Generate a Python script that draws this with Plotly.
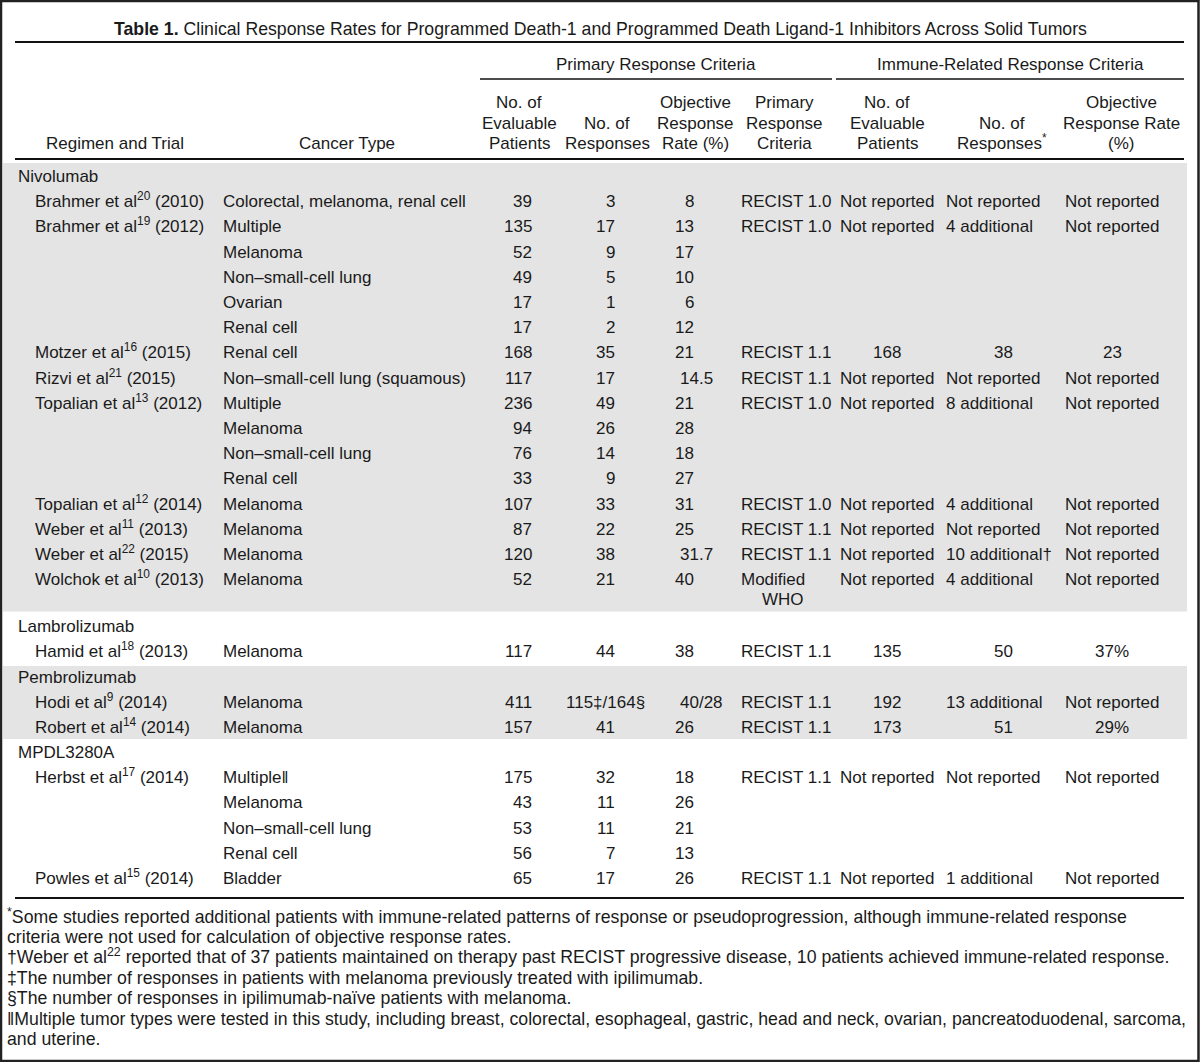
import plotly.graph_objects as go

# ---------------- data ----------------
title_bold = "Table 1."
title_text = "Clinical Response Rates for Programmed Death-1 and Programmed Death Ligand-1 Inhibitors Across Solid Tumors"

group_headers = ["Primary Response Criteria", "Immune-Related Response Criteria"]
col_headers = [
    ["", "", "Regimen and Trial"],
    ["", "", "Cancer Type"],
    ["No. of", "Evaluable", "Patients"],
    ["", "No. of", "Responses"],
    ["Objective", "Response", "Rate (%)"],
    ["Primary", "Response", "Criteria"],
    ["No. of", "Evaluable", "Patients"],
    ["", "No. of", "Responses<sup>*</sup>"],
    ["Objective", "Response Rate", "(%)"],
]

sections = ["Nivolumab", "Lambrolizumab", "Pembrolizumab", "MPDL3280A"]
section_sizes = [16, 1, 2, 5]

trial = [
    "Brahmer et al<sup>20</sup> (2010)", "Brahmer et al<sup>19</sup> (2012)", "", "", "", "",
    "Motzer et al<sup>16</sup> (2015)", "Rizvi et al<sup>21</sup> (2015)",
    "Topalian et al<sup>13</sup> (2012)", "", "", "",
    "Topalian et al<sup>12</sup> (2014)", "Weber et al<sup>11</sup> (2013)",
    "Weber et al<sup>22</sup> (2015)", "Wolchok et al<sup>10</sup> (2013)",
    "Hamid et al<sup>18</sup> (2013)",
    "Hodi et al<sup>9</sup> (2014)", "Robert et al<sup>14</sup> (2014)",
    "Herbst et al<sup>17</sup> (2014)", "", "", "", "Powles et al<sup>15</sup> (2014)",
]
cancer = [
    "Colorectal, melanoma, renal cell", "Multiple", "Melanoma", "Non–small-cell lung", "Ovarian", "Renal cell",
    "Renal cell", "Non–small-cell lung (squamous)", "Multiple", "Melanoma", "Non–small-cell lung", "Renal cell",
    "Melanoma", "Melanoma", "Melanoma", "Melanoma",
    "Melanoma",
    "Melanoma", "Melanoma",
    "Multiple‖", "Melanoma", "Non–small-cell lung", "Renal cell", "Bladder",
]
n_eval = ["39", "135", "52", "49", "17", "17", "168", "117", "236", "94", "76", "33", "107", "87", "120", "52",
          "117", "411", "157", "175", "43", "53", "56", "65"]
n_resp = ["3", "17", "9", "5", "1", "2", "35", "17", "49", "26", "14", "9", "33", "22", "38", "21",
          "44", "115‡/164§", "41", "32", "11", "11", "7", "17"]
orr = ["8", "13", "17", "10", "6", "12", "21", "14.5", "21", "28", "18", "27", "31", "25", "31.7", "40",
       "38", "40/28", "26", "18", "26", "21", "13", "26"]
criteria = ["RECIST 1.0", "RECIST 1.0", "", "", "", "", "RECIST 1.1", "RECIST 1.1", "RECIST 1.0", "", "", "",
            "RECIST 1.0", "RECIST 1.1", "RECIST 1.1", "Modified WHO",
            "RECIST 1.1", "RECIST 1.1", "RECIST 1.1", "RECIST 1.1", "", "", "", "RECIST 1.1"]
ir_eval = ["Not reported", "Not reported", "", "", "", "", "168", "Not reported", "Not reported", "", "", "",
           "Not reported", "Not reported", "Not reported", "Not reported",
           "135", "192", "173", "Not reported", "", "", "", "Not reported"]
ir_resp = ["Not reported", "4 additional", "", "", "", "", "38", "Not reported", "8 additional", "", "", "",
           "4 additional", "Not reported", "10 additional†", "4 additional",
           "50", "13 additional", "51", "Not reported", "", "", "", "1 additional"]
ir_orr = ["Not reported", "Not reported", "", "", "", "", "23", "Not reported", "Not reported", "", "", "",
          "Not reported", "Not reported", "Not reported", "Not reported",
          "37%", "Not reported", "29%", "Not reported", "", "", "", "Not reported"]

footnotes = [
    "<sup>*</sup>Some studies reported additional patients with immune-related patterns of response or pseudoprogression, although immune-related response",
    "criteria were not used for calculation of objective response rates.",
    "†Weber et al<sup>22</sup> reported that of 37 patients maintained on therapy past RECIST progressive disease, 10 patients achieved immune-related response.",
    "‡The number of responses in patients with melanoma previously treated with ipilimumab.",
    "§The number of responses in ipilimumab-naïve patients with melanoma.",
    "‖Multiple tumor types were tested in this study, including breast, colorectal, esophageal, gastric, head and neck, ovarian, pancreatoduodenal, sarcoma,",
    "and uterine.",
]

# ---------------- layout constants ----------------
W, H = 1200, 1062
FONT = "Liberation Sans, Arial, sans-serif"
TXT = "#1a1a1a"
FS = 17
PITCH = 25.2
section_text_top = [176, 626, 677, 752]
gray_bands = [(163, 611.5), (666, 739)]

fig = go.Figure()
fig.add_trace(go.Scatter(x=[0, W], y=[0, H], mode="markers", marker=dict(opacity=0),
                         hoverinfo="skip", showlegend=False))

ann = []


def txt(x, y, s, anchor="left", size=FS, color=TXT, family=FONT):
    # anchor the box bottom so that superscripts grow upward and the baseline stays fixed
    half = size * 1.3 / 2 + 1
    ann.append(dict(x=x, y=y + half, xref="x", yref="y", text=s, showarrow=False,
                    xanchor=anchor, yanchor="bottom",
                    font=dict(family=family, size=size, color=color), align=anchor))


shapes = []
for (y0, y1) in gray_bands:
    shapes.append(dict(type="rect", xref="x", yref="y", x0=3, x1=1187, y0=y0, y1=y1,
                       fillcolor="#e4e4e4", line=dict(width=0), layer="below"))


def hline(y, x0, x1, w=1.6):
    shapes.append(dict(type="line", xref="x", yref="y", x0=x0, x1=x1, y0=y, y1=y,
                       line=dict(color="#111111", width=w)))


hline(42, 15, 1184, 2)
hline(79, 480, 832, 1.5)
hline(79, 836, 1184, 1.5)
hline(159, 15, 1184, 2)
hline(898, 15, 1184, 2)
# outer frame
shapes.append(dict(type="rect", xref="x", yref="y", x0=1, x1=W - 1.5, y0=1, y1=H - 1,
                   line=dict(color="#222222", width=2.5), fillcolor="rgba(0,0,0,0)"))

# title
txt(600, 28, "<b>" + title_bold + "</b> " + title_text, "center", 17.7)

# group headers
txt(656, 64, group_headers[0], "center")
txt(1010, 64, group_headers[1], "center")

# column headers
hdr_x = [115, 347, 519, 607, 695, 784, 887, 1002, 1121]
hdr_y = [102, 123, 143]
for cx, lines in zip(hdr_x, col_headers):
    for yy, s in zip(hdr_y, lines):
        if s:
            txt(cx, yy, s, "center")


def is_int(s):
    return s.isdigit()


# body
row = 0
for si, sec in enumerate(sections):
    y = section_text_top[si]
    txt(16, y, sec)
    y += PITCH
    for k in range(section_sizes[si]):
        i = row
        if trial[i]:
            txt(33, y, trial[i])
        txt(220.5, y, cancer[i])
        txt(534, y, n_eval[i], "right")
        if is_int(n_resp[i]):
            txt(617, y, n_resp[i], "right")
        else:
            txt(605, y, n_resp[i], "center")
        if is_int(orr[i]):
            txt(696, y, orr[i], "right")
        else:
            txt(678, y, orr[i], "left")
        extra = 0
        if criteria[i]:
            if len(criteria[i]) > 10:
                first, rest = criteria[i].split(" ", 1)
                txt(739, y, first)
                txt(760, y + 20, rest)
                extra = 20
            else:
                txt(739, y, criteria[i])
        if ir_eval[i]:
            txt(887, y, ir_eval[i], "center")
        if ir_resp[i]:
            if is_int(ir_resp[i]):
                txt(1003, y, ir_resp[i], "center")
            else:
                txt(944, y, ir_resp[i], "left")
        if ir_orr[i]:
            txt(1112, y, ir_orr[i], "center")
        y += PITCH + extra
        row += 1

# footnotes
for k, s in enumerate(footnotes):
    txt(5, 916 + 20.4 * k, s, "left", 17.7)

fig.update_layout(
    width=W, height=H, margin=dict(l=0, r=0, t=0, b=0),
    paper_bgcolor="white", plot_bgcolor="white",
    xaxis=dict(range=[0, W], visible=False, fixedrange=True),
    yaxis=dict(range=[H, 0], visible=False, fixedrange=True),
    annotations=ann, shapes=shapes, showlegend=False,
)
fig.write_html("out.html", config={"displayModeBar": False},
               post_script="document.body.style.margin='0';document.body.style.overflow='hidden';")
